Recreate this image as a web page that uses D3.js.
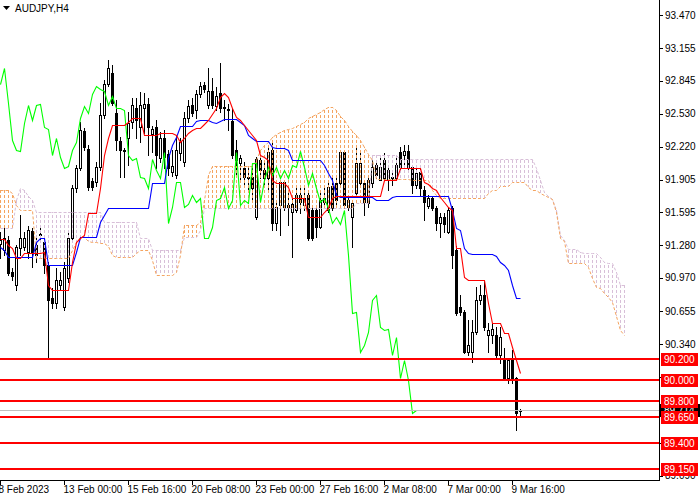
<!DOCTYPE html>
<html><head><meta charset="utf-8">
<script src="https://cdn.jsdelivr.net/npm/d3@7"></script>
<style>
body{margin:0;background:#fff}
svg{display:block}
text{font-family:"Liberation Sans",Arial,sans-serif}
</style>
</head><body>
<svg id="c" width="700" height="500"></svg>
<script>
const symbol = "AUDJPY,H4";
const timeLabels = ["8 Feb 2023","13 Feb 00:00","15 Feb 16:00","20 Feb 08:00","23 Feb 00:00","27 Feb 16:00","2 Mar 08:00","7 Mar 00:00","9 Mar 16:00"];
const timeLabelBars = [0,16,32,48,64,80,96,112,128];
const priceTicks = [93.470,93.155,92.845,92.530,92.220,91.905,91.595,91.280,90.970,90.655,90.340,90.025,89.715,89.400,89.090];
const hiddenTickLabels = [90.025,89.715,89.400];
const levels = [90.200,90.000,89.800,89.650,89.400,89.150];
const currentPrice = 89.714;

const open = [91.294,91.237,91.332,91.027,90.904,91.256,91.265,91.218,91.417,91.284,
91.389,91.313,91.094,90.780,90.733,90.904,90.695,90.970,91.351,91.826,
92.016,92.368,92.197,91.892,91.883,92.026,92.520,92.814,92.919,92.539,
92.273,92.187,92.301,92.453,92.586,92.406,92.586,92.624,92.339,92.406,
92.111,92.301,92.149,91.978,91.950,92.159,92.073,92.491,92.615,92.567,
92.719,92.805,92.615,92.748,92.605,92.729,92.596,92.577,92.463,92.187,
92.064,92.016,91.930,91.930,91.550,92.092,91.997,91.921,92.187,91.493,
91.664,91.645,91.664,91.598,91.617,91.759,91.664,91.759,91.617,91.617,
91.455,91.693,91.617,91.845,91.873,91.873,92.168,91.645,91.550,91.778,
91.873,91.873,91.683,91.873,92.045,91.902,92.092,91.902,91.930,91.921,
92.168,92.140,92.178,92.026,91.854,91.978,91.807,91.655,91.731,91.636,
91.493,91.550,91.408,91.636,91.237,90.695,90.647,90.267,90.267,90.457,
90.761,90.809,90.428,90.428,90.428,90.238,90.210,90.020,90.191,90.020,
89.706];
const high = [91.408,91.446,91.370,91.065,91.284,91.569,91.408,91.465,91.446,91.351,
91.465,91.370,91.122,90.875,91.065,91.027,91.122,91.408,91.854,92.045,
92.453,92.396,92.235,91.921,92.073,92.634,92.852,93.043,92.995,92.662,
92.311,92.206,92.548,92.681,92.681,92.738,92.729,92.681,92.415,92.472,
92.358,92.377,92.187,92.187,92.330,92.301,92.548,92.662,92.681,92.757,
92.833,92.833,92.967,92.872,92.786,93.014,92.662,92.624,92.586,92.282,
92.140,92.073,92.016,92.016,92.121,92.121,92.092,92.206,92.263,91.712,
91.902,91.902,91.778,91.731,91.835,91.826,91.826,91.807,91.636,91.636,
91.778,91.835,91.883,91.930,91.950,92.187,92.187,91.731,91.712,92.206,
92.187,91.883,91.921,92.092,92.092,92.111,92.159,92.026,91.997,92.111,
92.216,92.235,92.235,92.045,92.026,92.026,91.845,91.759,91.750,91.655,
91.588,91.588,91.645,91.655,91.275,90.809,90.666,90.571,90.571,90.885,
90.904,90.951,90.543,90.543,90.505,90.505,90.305,90.210,90.286,90.029,
89.725];
const low = [91.161,91.189,90.999,90.951,90.856,91.189,91.237,91.161,91.075,91.122,
91.332,91.018,90.219,90.685,90.685,90.856,90.666,90.932,91.313,91.788,
91.997,92.187,91.807,91.807,91.845,91.997,92.491,92.795,92.615,92.187,
91.930,91.930,92.045,92.396,92.301,92.263,92.349,92.140,92.168,92.016,
92.073,92.016,91.950,91.940,91.921,92.092,92.035,92.453,92.510,92.491,
92.691,92.738,92.586,92.586,92.567,92.548,92.472,92.377,92.111,91.950,
91.902,91.854,91.807,91.712,91.531,91.921,91.854,91.807,91.427,91.427,
91.379,91.617,91.474,91.170,91.598,91.588,91.617,91.332,91.332,91.360,
91.446,91.645,91.598,91.617,91.664,91.835,91.636,91.617,91.265,91.759,
91.835,91.569,91.645,91.835,91.921,91.902,91.902,91.807,91.854,91.902,
91.997,92.026,91.978,91.778,91.826,91.759,91.522,91.636,91.617,91.427,
91.360,91.408,91.398,91.065,90.619,90.619,90.257,90.238,90.172,90.438,
90.723,90.476,90.267,90.352,90.210,90.162,90.001,89.972,89.972,89.525,
89.668];
const close = [91.332,91.351,91.018,90.989,91.265,91.351,91.351,91.427,91.218,91.189,
91.379,91.094,90.761,90.733,90.951,90.951,91.065,91.351,91.826,92.016,
92.377,92.216,91.835,91.835,92.026,92.520,92.814,92.967,92.634,92.282,
92.187,92.178,92.444,92.615,92.472,92.615,92.624,92.406,92.387,92.140,
92.301,92.121,92.016,92.035,92.187,92.263,92.491,92.605,92.539,92.719,
92.795,92.767,92.748,92.615,92.700,92.586,92.586,92.567,92.140,92.092,
92.111,91.930,91.921,91.826,92.102,91.997,91.921,92.168,91.493,91.645,
91.883,91.883,91.645,91.674,91.759,91.693,91.731,91.351,91.351,91.455,
91.712,91.731,91.835,91.636,91.712,92.168,91.664,91.712,91.683,92.064,
92.064,91.693,91.902,92.026,91.950,92.026,91.921,91.997,91.921,92.045,
92.026,92.178,92.026,91.854,91.969,91.826,91.693,91.731,91.636,91.493,
91.550,91.484,91.617,91.189,90.638,90.647,90.267,90.333,90.457,90.761,
90.809,90.505,90.476,90.486,90.238,90.409,90.020,90.191,90.001,89.687,
89.714];

const tenkan = [91.341,91.341,91.284,91.256,91.161,91.161,91.208,91.208,91.208,91.208,
91.208,91.218,90.904,90.856,90.856,90.856,90.856,90.856,91.122,91.313,
91.351,91.379,91.588,91.588,91.588,91.826,92.140,92.301,92.425,92.425,
92.425,92.425,92.453,92.491,92.491,92.491,92.330,92.330,92.330,92.330,
92.349,92.349,92.349,92.349,92.330,92.263,92.301,92.349,92.377,92.396,
92.396,92.434,92.472,92.529,92.586,92.691,92.729,92.691,92.586,92.501,
92.472,92.425,92.377,92.330,92.282,92.140,92.121,92.092,91.902,91.873,
91.873,91.873,91.835,91.731,91.731,91.731,91.731,91.550,91.550,91.550,
91.550,91.598,91.636,91.731,91.750,91.750,91.750,91.750,91.750,91.750,
91.750,91.750,91.750,91.750,91.750,91.750,91.902,91.902,91.902,91.902,
92.016,92.016,92.016,92.016,92.016,92.016,91.883,91.864,91.826,91.807,
91.740,91.693,91.645,91.617,91.256,91.256,90.980,90.951,90.951,90.951,
90.951,90.951,90.733,90.543,90.543,90.543,90.448,90.448,90.314,90.191,
90.067];
const kijun = [91.265,91.237,91.170,91.170,91.170,91.170,91.170,91.170,91.170,91.313,
91.351,91.351,91.094,91.094,91.094,91.094,91.094,91.094,91.094,91.218,
91.360,91.360,91.360,91.360,91.360,91.503,91.569,91.636,91.636,91.636,
91.636,91.636,91.636,91.636,91.636,91.636,91.636,91.636,91.873,91.873,
91.873,91.873,92.111,92.235,92.311,92.415,92.415,92.415,92.415,92.463,
92.472,92.472,92.472,92.453,92.444,92.463,92.482,92.482,92.482,92.482,
92.453,92.425,92.330,92.301,92.273,92.273,92.273,92.273,92.216,92.206,
92.206,92.206,92.187,92.092,92.092,92.092,92.092,92.092,92.092,92.092,
92.092,92.045,91.969,91.902,91.759,91.740,91.740,91.740,91.740,91.740,
91.740,91.740,91.740,91.740,91.712,91.712,91.712,91.712,91.740,91.750,
91.750,91.750,91.750,91.750,91.750,91.750,91.750,91.750,91.750,91.750,
91.750,91.750,91.750,91.617,91.446,91.427,91.256,91.208,91.199,91.199,
91.199,91.199,91.199,91.199,91.180,91.122,91.094,91.046,90.904,90.780,
90.780];
const spanA = [91.807,91.807,91.807,91.778,91.664,91.617,91.617,91.617,91.617,91.161,
91.161,91.161,91.161,91.161,91.161,91.161,91.161,91.161,91.237,91.313,
91.360,91.360,91.322,91.313,91.313,91.303,91.303,91.275,91.189,91.170,
91.170,91.170,91.170,91.170,91.208,91.237,91.237,91.237,91.142,90.999,
90.999,90.999,90.999,90.999,91.027,91.189,91.474,91.474,91.474,91.474,
91.503,91.712,91.950,92.035,92.035,92.035,92.035,92.035,92.035,92.035,
92.035,92.035,92.035,92.035,92.092,92.187,92.235,92.263,92.311,92.339,
92.358,92.377,92.387,92.396,92.415,92.434,92.453,92.491,92.510,92.529,
92.548,92.577,92.596,92.596,92.567,92.510,92.472,92.415,92.368,92.330,
92.282,92.216,92.149,92.092,91.911,91.911,91.911,91.911,91.911,91.911,
91.911,91.911,91.911,91.902,91.902,91.902,91.902,91.902,91.807,91.759,
91.731,91.731,91.731,91.731,91.731,91.731,91.731,91.731,91.731,91.731,
91.731,91.731,91.778,91.807,91.807,91.845,91.845,91.845,91.883,91.883,
91.883,91.883,91.835,91.807,91.807,91.778,91.759,91.740,91.721,91.598,
91.351,91.322,91.113,91.113,91.113,91.113,91.113,91.075,90.970,90.885,
90.875,90.828,90.790,90.742,90.609,90.476,90.428];
const spanB = [91.446,91.446,91.446,91.446,91.712,91.826,91.807,91.750,91.712,91.598,
91.598,91.598,91.598,91.598,91.598,91.598,91.598,91.598,91.598,91.598,
91.598,91.598,91.598,91.598,91.598,91.598,91.503,91.503,91.503,91.503,
91.503,91.503,91.503,91.503,91.503,91.351,91.351,91.351,91.237,91.237,
91.237,91.237,91.237,91.237,91.237,91.237,91.360,91.360,91.360,91.360,
91.427,91.636,91.636,91.636,91.636,91.636,91.636,91.636,91.636,91.636,
91.636,91.636,91.636,91.636,91.636,91.636,91.636,91.636,91.636,91.636,
91.636,91.636,91.636,91.636,91.636,91.636,91.636,91.636,91.636,91.636,
91.636,91.636,91.636,91.636,91.636,91.636,91.636,91.636,91.636,91.683,
91.683,91.683,91.683,92.140,92.140,92.140,92.140,92.140,92.140,92.140,
92.102,92.102,92.102,92.102,92.102,92.102,92.102,92.102,92.102,92.102,
92.102,92.102,92.102,92.102,92.102,92.102,92.102,92.102,92.102,92.102,
92.102,92.102,92.102,92.102,92.102,92.102,92.102,92.102,92.102,92.102,
92.102,92.102,92.102,92.102,92.016,91.902,91.788,91.750,91.721,91.617,
91.379,91.332,91.246,91.246,91.246,91.218,91.208,91.208,91.208,91.208,
91.170,91.122,91.113,91.113,91.027,90.904,90.904];

const chikouShift = 26;

// ---- drawing ----
const svg = d3.select("#c");
const plotW = 659, plotH = 480;
const x = d3.scaleLinear().domain([0, 164.75]).range([0.5, 659.5]);
const y = d3.scaleLinear().domain([89.059, 93.613]).range([479, 0]);
const ry = v => Math.round(y(v)) + 0.5;

svg.append("rect").attr("width",700).attr("height",500).attr("fill","#fff");
svg.append("defs").append("clipPath").attr("id","clip")
  .append("rect").attr("x",0).attr("y",0).attr("width",plotW).attr("height",plotH);
const g = svg.append("g").attr("clip-path","url(#clip)");

// candles
const bars = d3.range(open.length);
const cg = g.append("g").attr("shape-rendering","crispEdges");
cg.selectAll("line.wick").data(bars).join("line")
  .attr("x1", i => x(i)).attr("x2", i => x(i))
  .attr("y1", i => Math.round(y(high[i]))).attr("y2", i => Math.round(y(low[i])) + 1)
  .attr("stroke","#000").attr("stroke-width",1);
cg.selectAll("rect.body").data(bars).join("rect")
  .attr("x", i => x(i) - 1)
  .attr("width", 2)
  .attr("y", i => Math.round(y(Math.max(open[i], close[i]))) + 0.5)
  .attr("height", i => Math.max(0.01, Math.round(y(Math.min(open[i], close[i]))) - Math.round(y(Math.max(open[i], close[i])))))
  .attr("fill", i => close[i] >= open[i] ? "#fff" : "#000")
  .attr("stroke","#000").attr("stroke-width",1);

// cloud (dotted histogram between the spans, pattern aligned to the screen rows)
const cbars = d3.range(spanA.length);
const cloud = g.append("g").attr("shape-rendering","crispEdges");
cloud.selectAll("line").data(cbars).join("line")
  .attr("x1", i => x(i)).attr("x2", i => x(i))
  .attr("y1", i => Math.round(y(Math.max(spanA[i], spanB[i]))))
  .attr("y2", i => Math.round(y(Math.min(spanA[i], spanB[i]))))
  .attr("stroke", i => spanA[i] >= spanB[i] ? "#F4A460" : "#D8BFD8")
  .attr("stroke-width",1).attr("stroke-dasharray","3,2")
  .attr("stroke-dashoffset", i => Math.round(y(Math.max(spanA[i], spanB[i]))) % 5);

const lineGen = arr => d3.line().x((d,i) => x(i)).y(d => ry(d))(arr);
g.append("path").attr("d", lineGen(spanB)).attr("fill","none")
  .attr("stroke","#D8BFD8").attr("stroke-width",1).attr("stroke-dasharray","3,2");
g.append("path").attr("d", lineGen(spanA)).attr("fill","none")
  .attr("stroke","#F4A460").attr("stroke-width",1).attr("stroke-dasharray","3,2");

// chikou (close shifted back), kijun, tenkan
const chikou = close.slice(chikouShift);
g.append("path").attr("d", lineGen(chikou)).attr("fill","none").attr("stroke","#00FF00").attr("stroke-width",1.1);
g.append("path").attr("d", lineGen(kijun)).attr("fill","none").attr("stroke","#0000FF").attr("stroke-width",1.1);
g.append("path").attr("d", lineGen(tenkan)).attr("fill","none").attr("stroke","#FF0000").attr("stroke-width",1.1);

// current price line
g.append("line").attr("x1",0).attr("x2",plotW).attr("y1",ry(currentPrice)).attr("y2",ry(currentPrice))
  .attr("stroke","#C0C0C0").attr("stroke-width",1).attr("shape-rendering","crispEdges");

// horizontal levels
g.selectAll("line.lvl").data(levels).join("line")
  .attr("x1",0).attr("x2",plotW)
  .attr("y1", d => Math.round(y(d))).attr("y2", d => Math.round(y(d)))
  .attr("stroke","#FF0000").attr("stroke-width",2).attr("shape-rendering","crispEdges");

// axes frame
svg.append("line").attr("x1",659.5).attr("x2",659.5).attr("y1",0).attr("y2",481).attr("stroke","#000").attr("shape-rendering","crispEdges");
svg.append("line").attr("x1",0).attr("x2",660).attr("y1",480.5).attr("y2",480.5).attr("stroke","#000").attr("shape-rendering","crispEdges");

// price ticks
const pt = svg.append("g");
pt.selectAll("line").data(priceTicks).join("line")
  .attr("x1",660).attr("x2",663).attr("y1", d => ry(d)).attr("y2", d => ry(d))
  .attr("stroke","#000").attr("shape-rendering","crispEdges");
pt.selectAll("text").data(priceTicks.filter(d => !hiddenTickLabels.includes(d))).join("text")
  .attr("x",665).attr("y", d => y(d) + 3.5)
  .attr("font-size","10px").attr("fill","#000")
  .text(d => d.toFixed(3));

// current price box
svg.append("rect").attr("x",660).attr("y", Math.round(y(currentPrice)) - 6).attr("width",40).attr("height",13).attr("fill","#000");
svg.append("text").attr("x",664).attr("y", y(currentPrice) + 4).attr("font-size","10px").attr("fill","#fff").text(currentPrice.toFixed(3));

// level labels
const lb = svg.append("g");
lb.selectAll("rect").data(levels).join("rect")
  .attr("x",661).attr("y", d => Math.round(y(d)) - 6).attr("width",37).attr("height",13).attr("fill","#FF0000");
lb.selectAll("text").data(levels).join("text")
  .attr("x",664).attr("y", d => y(d) + 4).attr("font-size","10px").attr("fill","#fff")
  .text(d => d.toFixed(3));

// time axis
const ta = svg.append("g");
ta.selectAll("line").data(timeLabelBars).join("line")
  .attr("x1", d => x(d)).attr("x2", d => x(d)).attr("y1",481).attr("y2",485)
  .attr("stroke","#000").attr("shape-rendering","crispEdges");
ta.selectAll("text").data(timeLabels).join("text")
  .attr("x", (d,i) => i === 0 ? x(timeLabelBars[i]) - 2 : x(timeLabelBars[i]) - 1)
  .attr("y",493).attr("font-size","10px").attr("fill","#000")
  .text(d => d);

// title
svg.append("path").attr("d","M3,6 L10,6 L6.5,10 Z").attr("fill","#000");
svg.append("text").attr("x",15).attr("y",12).attr("font-size","10px").attr("fill","#000").text(symbol);
</script>
</body></html>
